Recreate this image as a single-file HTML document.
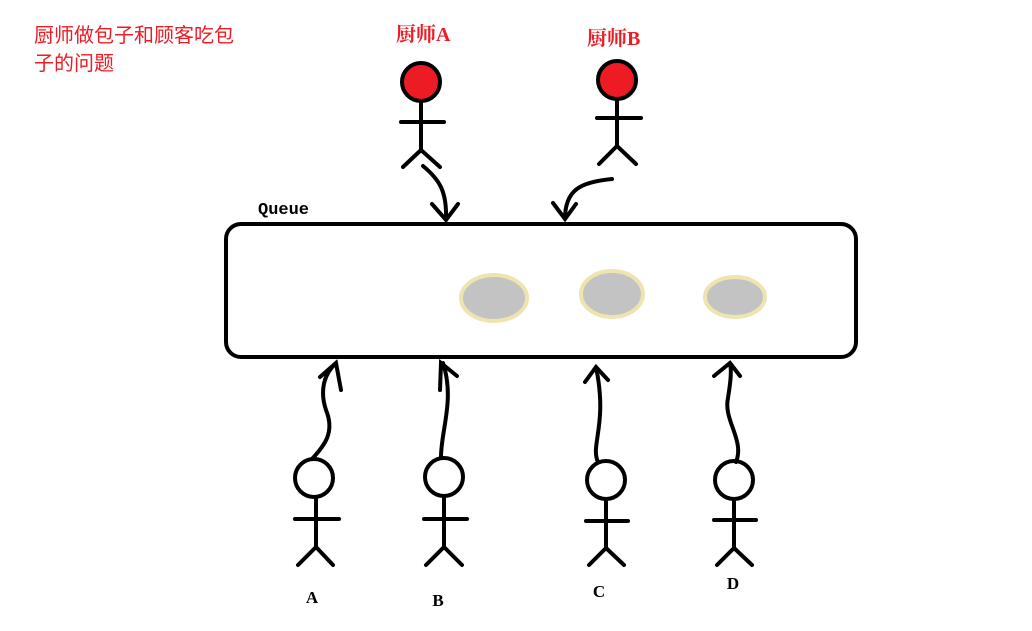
<!DOCTYPE html>
<html><head><meta charset="utf-8"><style>
html,body{margin:0;padding:0;background:#fff;}
svg{display:block}
</style></head><body>
<svg width="1032" height="631" viewBox="0 0 1032 631" xmlns="http://www.w3.org/2000/svg">
<g font-family="'Liberation Sans','Noto Sans CJK SC',sans-serif" fill="#ed1c24" font-size="20">
<text x="34" y="42">厨师做包子和顾客吃包</text>
<text x="34" y="70">子的问题</text>
</g>
<g font-family="'Liberation Serif','Noto Serif CJK SC',serif" fill="#ed1c24" font-size="20" font-weight="bold">
<text x="396" y="41">厨师A</text>
<text x="587" y="45">厨师B</text>
</g>
<text x="258" y="214" font-family="'Liberation Mono',monospace" font-weight="bold" font-size="17">Queue</text>
<g stroke="#000" stroke-width="4" fill="none" stroke-linecap="round">
<rect x="226" y="224" width="630" height="133" rx="15"/>
<circle cx="421" cy="82" r="19" fill="#ed1c24"/>
<path d="M421 101V150M401 122H444M421 150L403 167M421 150L440 167"/>
<path d="M423 166C440 180 447 192 446 220M432 204L446 220L458 204"/>
<circle cx="617" cy="80" r="19" fill="#ed1c24"/>
<path d="M617 99V146M597 118H641M617 146L599 164M617 146L636 164"/>
<path d="M612 179C580 182 565 190 565 219M553 203L565 219L576 204"/>
<circle cx="314" cy="478" r="19"/>
<path d="M316 497V547M295 519H339M316 547L298 565M316 547L333 565"/>
<path d="M312 459C325 445 335 432 326 410C320 392 323 375 336 363M320 377L336 363L341 390"/>
<circle cx="444" cy="477" r="19"/>
<path d="M444 496V547M424 519H467M444 547L426 565M444 547L462 565"/>
<path d="M441 457C441 430 455 400 443 363M440 390L441 363L457 376"/>
<circle cx="606" cy="480" r="19"/>
<path d="M606 499V548M586 521H628M606 548L589 565M606 548L624 565"/>
<path d="M598 462C590 445 608 425 596 367M585 382L596 367L608 380"/>
<circle cx="734" cy="480" r="19"/>
<path d="M734 499V548M714 520H756M734 548L717 565M734 548L752 565"/>
<path d="M736 462C745 440 723 420 728 398C730 385 732 372 730 363M714 376L730 363L740 376"/>
</g>
<g fill="#c3c3c3" stroke="#efe4b0" stroke-width="4">
<ellipse cx="494" cy="298" rx="33" ry="23"/>
<ellipse cx="612" cy="294" rx="31" ry="23"/>
<ellipse cx="735" cy="297" rx="30" ry="20"/>
</g>
<g font-family="'Liberation Serif',serif" font-size="17" font-weight="bold" text-anchor="middle">
<text x="312" y="603">A</text>
<text x="438" y="606">B</text>
<text x="599" y="597">C</text>
<text x="733" y="589">D</text>
</g>
</svg>
</body></html>
